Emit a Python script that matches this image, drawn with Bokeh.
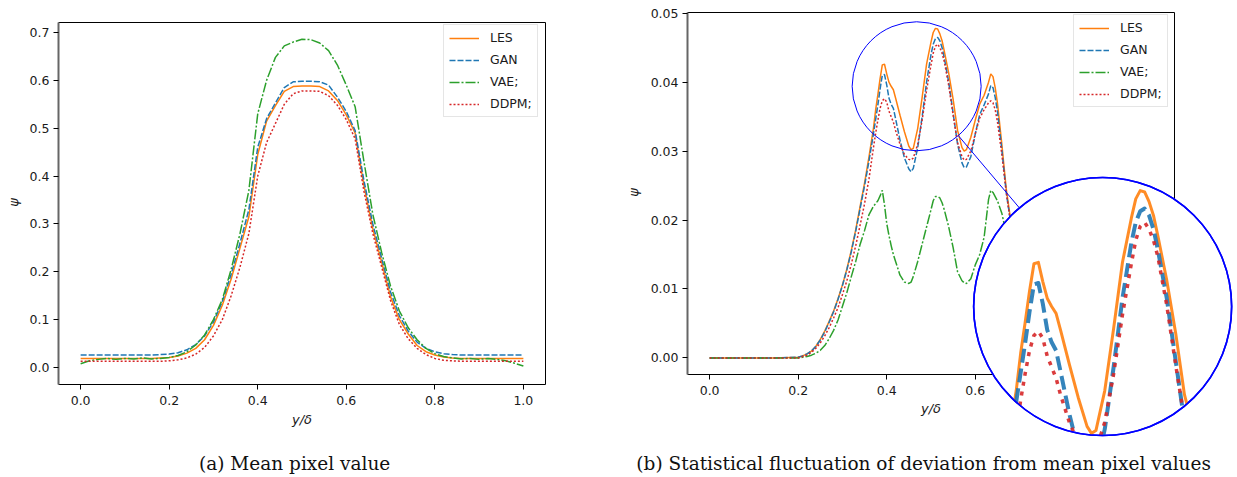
import numpy as np
from bokeh.plotting import figure
from bokeh.layouts import row
from bokeh.models import Range1d, FixedTicker, Legend, LegendItem, NumeralTickFormatter, Label
from bokeh.embed import file_html
from bokeh.resources import INLINE

# ---------------- data: (a) mean pixel value ----------------
x_a = [0.0, 0.02, 0.04, 0.06, 0.08, 0.1, 0.12, 0.14, 0.16, 0.18,
       0.2, 0.22, 0.24, 0.26, 0.28, 0.3, 0.32, 0.34, 0.36, 0.38,
       0.4, 0.42, 0.44, 0.46, 0.48, 0.5, 0.52, 0.54, 0.56, 0.58,
       0.6, 0.62, 0.64, 0.66, 0.68, 0.7, 0.72, 0.74, 0.76, 0.78,
       0.8, 0.82, 0.84, 0.86, 0.88, 0.9, 0.92, 0.94, 0.96, 0.98, 1.0]
les_a = [0.019, 0.019, 0.019, 0.019, 0.019, 0.019, 0.019, 0.019, 0.019, 0.020,
         0.021, 0.024, 0.030, 0.040, 0.058, 0.088, 0.130, 0.185, 0.250, 0.315,
         0.445, 0.515, 0.547, 0.577, 0.587, 0.588, 0.588, 0.587, 0.578, 0.558,
         0.528, 0.490, 0.380, 0.290, 0.220, 0.148, 0.100, 0.070, 0.046, 0.033,
         0.026, 0.022, 0.020, 0.019, 0.019, 0.019, 0.019, 0.019, 0.019, 0.019, 0.019]
gan_a = [0.026, 0.026, 0.026, 0.026, 0.026, 0.026, 0.026, 0.026, 0.026, 0.027,
         0.028, 0.031, 0.037, 0.048, 0.066, 0.095, 0.138, 0.195, 0.260, 0.330,
         0.460, 0.520, 0.553, 0.585, 0.597, 0.598, 0.598, 0.597, 0.590, 0.565,
         0.535, 0.495, 0.390, 0.300, 0.228, 0.158, 0.108, 0.076, 0.053, 0.040,
         0.033, 0.029, 0.027, 0.026, 0.026, 0.026, 0.026, 0.026, 0.026, 0.026, 0.026]
vae_a = [0.008, 0.014, 0.017, 0.019, 0.017, 0.019, 0.018, 0.020, 0.018, 0.019,
         0.021, 0.025, 0.033, 0.047, 0.068, 0.100, 0.142, 0.205, 0.280, 0.370,
         0.530, 0.600, 0.648, 0.672, 0.680, 0.686, 0.685, 0.678, 0.662, 0.632,
         0.590, 0.545, 0.430, 0.320, 0.240, 0.170, 0.118, 0.083, 0.058, 0.040,
         0.029, 0.023, 0.020, 0.018, 0.019, 0.017, 0.019, 0.017, 0.014, 0.009, 0.003]
ddpm_a = [0.013, 0.013, 0.013, 0.013, 0.013, 0.013, 0.013, 0.013, 0.013, 0.013,
          0.014, 0.016, 0.020, 0.028, 0.042, 0.066, 0.100, 0.150, 0.210, 0.280,
          0.400, 0.470, 0.510, 0.550, 0.572, 0.578, 0.578, 0.577, 0.568, 0.548,
          0.518, 0.478, 0.368, 0.280, 0.210, 0.140, 0.090, 0.060, 0.040, 0.027,
          0.019, 0.015, 0.014, 0.013, 0.013, 0.013, 0.013, 0.013, 0.013, 0.013, 0.013]

# ---------------- data: (b) statistical fluctuation ----------------
x_b = [0.0, 0.05, 0.1, 0.15,
       0.2, 0.21, 0.22, 0.23, 0.24, 0.25, 0.26, 0.27, 0.28, 0.29,
       0.3, 0.31, 0.32, 0.33, 0.34, 0.35, 0.36, 0.37,
       0.375, 0.38, 0.385, 0.39, 0.395, 0.4, 0.405, 0.41, 0.415, 0.42,
       0.43, 0.44, 0.45,
       0.455, 0.46, 0.47, 0.48, 0.49, 0.5,
       0.505, 0.51, 0.515, 0.52, 0.525, 0.53,
       0.54, 0.55, 0.56, 0.57,
       0.575, 0.58, 0.59, 0.6, 0.61, 0.62, 0.63,
       0.635, 0.64, 0.645, 0.65,
       0.66, 0.67, 0.68, 0.69, 0.7, 0.71, 0.72, 0.73, 0.74, 0.75, 0.76, 0.77, 0.78, 0.79, 0.8,
       0.85, 0.9, 0.95, 1.0]
les_b = [0.0, 0.0, 0.0, 0.0,
         0.0001, 0.0003, 0.0006, 0.0010, 0.0017, 0.0027, 0.0039, 0.0053, 0.0068, 0.0086,
         0.0106, 0.0129, 0.0156, 0.0186, 0.0220, 0.0254, 0.0292, 0.0333,
         0.0360, 0.0382, 0.0405, 0.0425, 0.0426, 0.0412, 0.0400, 0.0394, 0.0389, 0.0377,
         0.0352, 0.0328, 0.0307,
         0.0302, 0.0304, 0.0333, 0.0378, 0.0426, 0.0458,
         0.0472, 0.0478, 0.0477, 0.0470, 0.0460, 0.0445,
         0.0413, 0.0375, 0.0330, 0.0305,
         0.0300, 0.0302, 0.0320, 0.0345, 0.0368, 0.0381, 0.0400,
         0.0412, 0.0408, 0.0392, 0.0370,
         0.0310, 0.0245, 0.0200, 0.0165, 0.0135, 0.0110, 0.0088, 0.0068, 0.0052, 0.0038,
         0.0026, 0.0017, 0.0010, 0.0005, 0.0002,
         0.0, 0.0, 0.0, 0.0]
gan_b = [0.0, 0.0, 0.0, 0.0,
         0.0001, 0.0003, 0.0006, 0.0010, 0.0017, 0.0026, 0.0038, 0.0052, 0.0067, 0.0085,
         0.0105, 0.0128, 0.0154, 0.0184, 0.0217, 0.0250, 0.0286, 0.0325,
         0.0346, 0.0367, 0.0390, 0.0410, 0.0411, 0.0396, 0.0377, 0.0368, 0.0362, 0.0347,
         0.0316, 0.0290, 0.0274,
         0.0270, 0.0275, 0.0305, 0.0350, 0.0400, 0.0440,
         0.0455, 0.0463, 0.0465, 0.0460, 0.0450, 0.0435,
         0.0400, 0.0355, 0.0310, 0.0283,
         0.0276, 0.0277, 0.0292, 0.0325, 0.0353, 0.0367, 0.0383,
         0.0395, 0.0392, 0.0378, 0.0358,
         0.0302, 0.0240, 0.0196, 0.0162, 0.0132, 0.0107, 0.0086, 0.0067, 0.0051, 0.0037,
         0.0025, 0.0016, 0.0010, 0.0005, 0.0002,
         0.0, 0.0, 0.0, 0.0]
vae_b = [0.0, 0.0, 0.0, 0.0,
         0.0000, 0.0001, 0.0002, 0.0004, 0.0007, 0.0011, 0.0018, 0.0028, 0.0040, 0.0055,
         0.0075, 0.0095, 0.0118, 0.0140, 0.0165, 0.0185, 0.0208, 0.0220,
         0.0224, 0.0228, 0.0235, 0.0243, 0.0222, 0.0195, 0.0178, 0.0163, 0.0150, 0.0140,
         0.0120, 0.0110, 0.0108,
         0.0110, 0.0118, 0.0140, 0.0165, 0.0190, 0.0215,
         0.0228, 0.0234, 0.0234, 0.0232, 0.0225, 0.0215,
         0.0190, 0.0160, 0.0125, 0.0112,
         0.0109, 0.0108, 0.0115, 0.0135, 0.0150, 0.0175, 0.0230,
         0.0243, 0.0240, 0.0234, 0.0228,
         0.0210, 0.0180, 0.0150, 0.0120, 0.0095, 0.0075, 0.0058, 0.0044, 0.0032, 0.0023,
         0.0016, 0.0010, 0.0006, 0.0003, 0.0001,
         0.0, 0.0, 0.0, 0.0]
ddpm_b = [0.0, 0.0, 0.0, 0.0,
          0.0000, 0.0002, 0.0004, 0.0008, 0.0014, 0.0022, 0.0032, 0.0044, 0.0058, 0.0073,
          0.0092, 0.0112, 0.0136, 0.0163, 0.0193, 0.0224, 0.0260, 0.0305,
          0.0326, 0.0345, 0.0362, 0.0373, 0.0376, 0.0371, 0.0358, 0.0350, 0.0342, 0.0330,
          0.0310, 0.0295, 0.0288,
          0.0287, 0.0290, 0.0310, 0.0345, 0.0388, 0.0425,
          0.0442, 0.0452, 0.0455, 0.0450, 0.0442, 0.0430,
          0.0395, 0.0352, 0.0312, 0.0292,
          0.0287, 0.0288, 0.0300, 0.0325, 0.0348, 0.0360, 0.0370,
          0.0373, 0.0370, 0.0360, 0.0343,
          0.0295, 0.0240, 0.0195, 0.0160, 0.0130, 0.0105, 0.0084, 0.0065, 0.0050, 0.0036,
          0.0025, 0.0016, 0.0010, 0.0005, 0.0002,
          0.0, 0.0, 0.0, 0.0]
for _s in (les_b, gan_b, vae_b, ddpm_b):
    assert len(_s) == len(x_b)

labels = ["LES", "GAN", "VAE;", "DDPM;"]
ticks_a_x = [0.0, 0.2, 0.4, 0.6, 0.8, 1.0]
ticks_a_y = [0.0, 0.1, 0.2, 0.3, 0.4, 0.5, 0.6, 0.7]
ticks_b_x = [0.0, 0.2, 0.4, 0.6]
ticks_b_y = [0.0, 0.01, 0.02, 0.03, 0.04, 0.05]
x_label = "y/δ"
y_label = "ψ"
caption_a = "(a) Mean pixel value"
caption_b = "(b) Statistical fluctuation of deviation from mean pixel values"

# ---------------- styles / layout (screen px) ----------------
colors = ["#ff7f0e", "#1f77b4", "#2ca02c", "#d62728"]
dashes = ["solid", "6 2", "10 2 2 2", "2 2"]
inset_dashes = ["solid", "14 6", "20 4 4 4", "4 6"]
inset_widths = [3.0, 4.0, 3.0, 3.5]
TICK_FONT = "12.5px"
CAP_FONT = "18.5px"
H = 477
W1, W2 = 620, 617
X_LO, X_HI = -0.05, 1.05
SX = 487 / (X_HI - X_LO)
CAP_X = 0.4834
# axes boxes in page pixels: (left, top, bottom); each box is 487 x 362
BOX_A = (58, 22, 384)
BOX_B = (687, 12, 374)


def style_axes(p):
    p.xgrid.visible = False
    p.ygrid.visible = False
    p.outline_line_color = None
    for ax in (p.xaxis[0], p.yaxis[0]):
        ax.major_tick_out = 5
        ax.major_tick_in = 0
        ax.minor_tick_out = 0
        ax.minor_tick_in = 0
        ax.major_tick_line_color = "black"
        ax.major_label_text_font = "DejaVu Sans"
        ax.major_label_text_font_size = TICK_FONT
        ax.major_label_text_color = "#1a1a1a"
    p.xaxis[0].major_label_standoff = 6
    p.yaxis[0].major_label_standoff = 4
    p.yaxis[0].axis_line_color = "#666666"
    p.yaxis[0].axis_line_width = 2


def make_legend(p, rends, loc):
    leg = Legend(items=[LegendItem(label=l, renderers=[r]) for l, r in zip(labels, rends)],
                 location=loc, orientation="vertical")
    leg.label_text_font = "DejaVu Sans"
    leg.label_text_font_size = "12.5px"
    leg.label_text_color = "#1a1a1a"
    leg.glyph_width = 30
    leg.glyph_height = 14
    leg.label_height = 14
    leg.spacing = 7
    leg.padding = 5
    leg.margin = 0
    leg.label_standoff = 11
    leg.border_line_color = "#cccccc"
    leg.border_line_width = 1
    leg.background_fill_color = "white"
    leg.background_fill_alpha = 0.85
    p.add_layout(leg)


def make_fig(width, canvas_left, box, y_lo, y_hi):
    bl, bt, bb = box
    sy = (bb - bt) / (y_hi - y_lo)
    xr = Range1d(X_LO - (bl - canvas_left) / SX, X_LO + (canvas_left + width - bl) / SX)
    yr = Range1d(y_lo - (H - bb) / sy, y_hi + bt / sy)
    p = figure(width=width, height=H, output_backend="svg", toolbar_location=None,
               x_range=xr, y_range=yr, min_border_left=0, min_border_right=0,
               min_border_top=0, min_border_bottom=0)
    style_axes(p)
    p.xaxis.fixed_location = y_lo
    p.yaxis.fixed_location = X_LO
    p.yaxis.bounds = (y_lo, y_hi)
    return p, sy


def add_texts(p, box, y_lo, sy, ylab_px, xlab_py, cap_py, caption):
    bl, bt, bb = box
    xd = lambda px: X_LO + (px - bl) / SX
    yd = lambda py: y_lo - (py - bb) / sy
    p.add_layout(Label(x=xd(ylab_px[0]), y=yd(ylab_px[1]), text=y_label, angle=np.pi / 2,
                       text_align="center", text_baseline="middle", text_font="DejaVu Sans",
                       text_font_style="italic", text_font_size="13px", text_color="#1a1a1a"))
    p.add_layout(Label(x=0.5, y=yd(xlab_py), text=x_label, text_align="center",
                       text_baseline="middle", text_font="DejaVu Sans",
                       text_font_style="italic", text_font_size="13px", text_color="#1a1a1a"))
    p.add_layout(Label(x=CAP_X, y=yd(cap_py), text=caption, text_align="center",
                       text_baseline="middle", text_font="DejaVu Serif",
                       text_font_size=CAP_FONT, text_color="#111111"))


# ================= figure (a) =================
YA_LO, YA_HI = -0.0355, 0.7209
p1, SYA = make_fig(W1, 0, BOX_A, YA_LO, YA_HI)
p1.xaxis.ticker = FixedTicker(ticks=ticks_a_x)
p1.yaxis.ticker = FixedTicker(ticks=ticks_a_y)
p1.xaxis.formatter = NumeralTickFormatter(format="0.0")
p1.yaxis.formatter = NumeralTickFormatter(format="0.0")
p1.xaxis.bounds = (X_LO, X_HI)
p1.xaxis.axis_line_color = "black"
p1.segment(x0=[X_LO, X_HI], y0=[YA_HI, YA_LO], x1=[X_HI, X_HI], y1=[YA_HI, YA_HI],
           line_color="black", line_width=1)

rend_a = []
for ys, c, d in zip([les_a, gan_a, vae_a, ddpm_a], colors, dashes):
    rend_a.append(p1.line(x_a, ys, line_color=c, line_width=1.5, line_dash=d))
make_legend(p1, rend_a, (443, H - 29 - 88))
add_texts(p1, BOX_A, YA_LO, SYA, (13, 202), 419, 463, caption_a)

# ================= figure (b) =================
YB_LO, YB_HI = -0.0024, 0.0501
p2, SYB = make_fig(W2, W1, BOX_B, YB_LO, YB_HI)
p2.xaxis.axis_line_color = None
p2.xaxis.ticker = FixedTicker(ticks=ticks_b_x)
p2.yaxis.ticker = FixedTicker(ticks=ticks_b_y)
p2.xaxis.formatter = NumeralTickFormatter(format="0.0")
p2.yaxis.formatter = NumeralTickFormatter(format="0.00")

# spines (top, right, bottom) of the ordinary axes box
p2.segment(x0=[X_LO, X_HI, X_LO], y0=[YB_HI, YB_LO, YB_LO],
           x1=[X_HI, X_HI, X_HI], y1=[YB_HI, YB_HI, YB_LO],
           line_color="black", line_width=1)

series_b = [les_b, gan_b, vae_b, ddpm_b]
rend_b = []
for ys, c, d in zip(series_b, colors, dashes):
    rend_b.append(p2.line(x_b, ys, line_color=c, line_width=1.5, line_dash=d))

# ---- zoom inset ----
R_S = 64.5            # radius of the zoomed region (px)
MAG = 2.0
XC, YC = 0.4676, 0.0394     # centre of zoomed region (data)
XI, YI = 0.8877, 0.00747    # centre of inset (data)
R_I = R_S * MAG

dxp, dyp = (XI - XC) * SX, (YI - YC) * SYB
L = np.hypot(dxp, dyp)
ux, uy = dxp / L, dyp / L
p2.line([XC + R_S * ux / SX, XI - R_I * ux / SX], [YC + R_S * uy / SYB, YI - R_I * uy / SYB],
        line_color="blue", line_width=1)
p2.scatter([XC], [YC], marker="circle", size=2 * R_S, fill_color=None,
           line_color="blue", line_width=1)
p2.scatter([XI], [YI], marker="circle", size=2 * R_I, fill_color="white",
           line_color="blue", line_width=1.6)


def clip_circle(xs, ys, cx, cy, rx, ry):
    u = (np.asarray(xs, float) - cx) / rx
    v = (np.asarray(ys, float) - cy) / ry
    ou, ov = [], []
    last = None
    for i in range(len(u) - 1):
        a = np.array([u[i], v[i]])
        d = np.array([u[i + 1] - u[i], v[i + 1] - v[i]])
        A = d @ d
        if A == 0:
            continue
        B = 2 * (a @ d)
        C = a @ a - 1
        disc = B * B - 4 * A * C
        if disc <= 0:
            continue
        sq = np.sqrt(disc)
        t0 = max(0.0, (-B - sq) / (2 * A))
        t1 = min(1.0, (-B + sq) / (2 * A))
        if t0 >= t1:
            continue
        q0 = a + t0 * d
        q1 = a + t1 * d
        if last is None or t0 > 0 or not np.allclose(q0, last):
            if ou:
                ou.append(np.nan)
                ov.append(np.nan)
            ou.append(q0[0])
            ov.append(q0[1])
        ou.append(q1[0])
        ov.append(q1[1])
        last = q1
    return np.array(ou) * rx + cx, np.array(ov) * ry + cy


for ys, c, d, w in zip(series_b, colors, inset_dashes, inset_widths):
    cx_, cy_ = clip_circle(x_b, ys, XC, YC, R_S / SX, R_S / SYB)
    if len(cx_) == 0:
        continue
    p2.line(XI + MAG * (cx_ - XC), YI + MAG * (cy_ - YC), line_color=c, line_width=w,
            line_dash=d, line_alpha=0.9, line_join="round")
p2.scatter([XI], [YI], marker="circle", size=2 * R_I, fill_color=None,
           line_color="blue", line_width=1.6)

make_legend(p2, rend_b, (1073 - W1, H - 19 - 88))
add_texts(p2, BOX_B, YB_LO, SYB, (633, 192), 408, 463, caption_b)

layout = row(p1, p2)
open("out.html", "w").write(file_html(layout, INLINE))
